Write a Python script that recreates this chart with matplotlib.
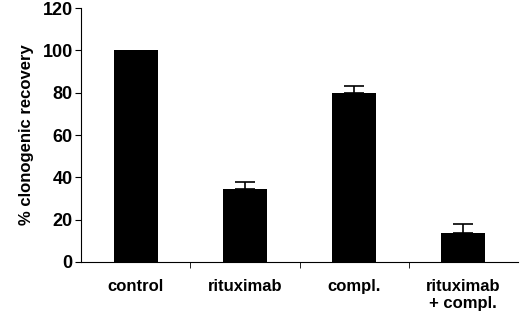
import numpy as np
import matplotlib.pyplot as plt

categories = ["control", "rituximab", "compl.", "rituximab\n+ compl."]
recovery = [100, 34.5, 80, 13.5]
recovery_err = [0, 3.5, 3, 4.5]

plt.rcParams['font.family'] = ['Liberation Sans', 'DejaVu Sans']
plt.rcParams['font.weight'] = 'bold'

fig = plt.figure(figsize=(5.2, 3.13), dpi=100)
ax = fig.add_axes([0.156, 0.163, 0.84, 0.811])

x = np.arange(len(categories))
ax.bar(x, recovery, width=0.4, color='black')

# upper error bars only, skip the control (normalised, no error)
err = np.array(recovery_err)
has_err = err > 0
ax.errorbar(x[has_err], np.array(recovery)[has_err],
            yerr=[np.zeros(has_err.sum()), err[has_err]],
            fmt='none', ecolor='black', elinewidth=1.2, capsize=7, capthick=1.2)

ax.set_xlim(-0.5, len(categories) - 0.5)
ax.set_ylim(0, 120)
ax.set_yticks(np.arange(0, 121, 20))
ax.set_xticks(x)
ax.set_xticklabels(categories, fontsize=12, fontweight='bold', linespacing=1.2)
ax.set_xticks(x[1:] - 0.5, minor=True)
ax.tick_params(axis='x', which='major', length=0, pad=12)
ax.tick_params(axis='x', which='minor', length=4, direction='out')
ax.tick_params(axis='y', length=4, labelsize=13, pad=2)
for lab in ax.get_yticklabels():
    lab.set_fontweight('bold')
ax.set_ylabel('% clonogenic recovery', fontsize=12, fontweight='bold', labelpad=6)

ax.spines['top'].set_visible(False)
ax.spines['right'].set_visible(False)

fig.savefig('out.png', dpi=100)
